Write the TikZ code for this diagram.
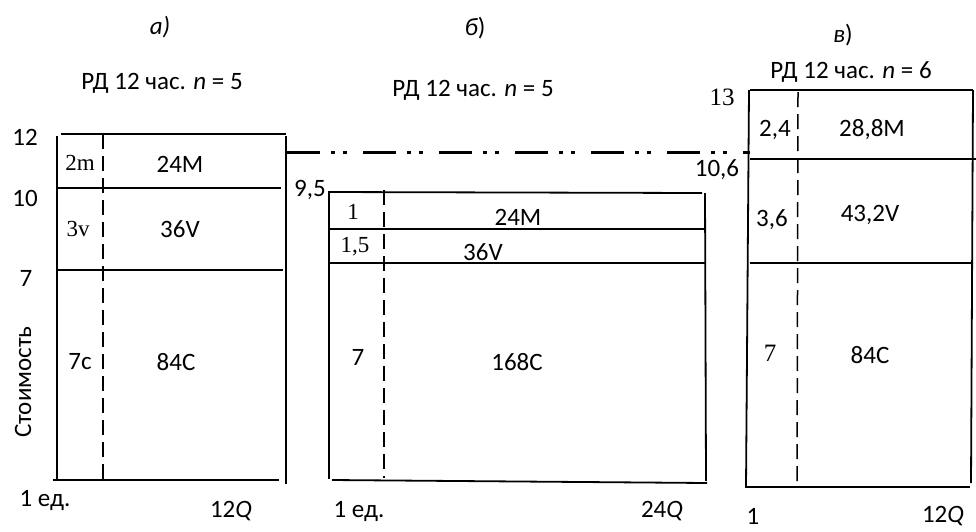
\documentclass[tikz,border=0pt]{standalone}
\usepackage{fontspec}
\setmainfont{Carlito}
\newfontfamily\serifface{Liberation Serif}
\begin{document}
\begin{tikzpicture}[x=1pt,y=-1pt,
  frame/.style={line width=1.8pt},
  cut/.style={line width=1.5pt, dash pattern=on 15pt off 7pt},
  level/.style={line width=3pt, dash pattern=on 33pt off 11pt on 4pt off 8pt on 4pt off 16pt},
  lbl/.style={inner sep=0pt, font=\fontsize{25}{30}\selectfont},
  slbl/.style={inner sep=0pt, font=\serifface\fontsize{23}{27}\selectfont}]
\useasboundingbox (0,0) rectangle (976,531);

% ---- titles
\node[lbl] (ta) at (160,27) {\itshape а)};
\node[lbl] (tb) at (475,28) {\itshape б\upshape)};
\node[lbl] (tc) at (843,35) {\itshape в\upshape)};
\node[lbl] (ha) at (162,83) {РД 12 час. \textit{n} = 5};
\node[lbl] (hb) at (473,90) {РД 12 час. \textit{n} = 5};
\node[lbl] (hc) at (851,72) {РД 12 час. \textit{n} = 6};

% ---- panel a
\draw[frame] (61,134) -- (286,134);
\draw[frame] (57,136) -- (57,481);
\draw[frame] (286,136) -- (286,484);
\draw[frame] (56,188) -- (281,188);
\draw[frame] (57,270) -- (283,270);
\draw[frame] (53,480) -- (279,480);
\draw[cut] (103,134) -- (103,480);
\node[lbl] (a12) at (25,137) {12};
\node[lbl] (a10) at (25,198) {10};
\node[lbl] (a7) at (26,278) {7};
\node[lbl, rotate=90] (ay) at (23,382) {Стоимость};
\node[slbl] (a2m) at (80,163) {2m};
\node[slbl] (a3v) at (78,229) {3v};
\node[lbl] (a7c) at (80,362) {7c};
\node[lbl] (a24) at (180,164) {24M};
\node[lbl] (a36) at (180,229) {36V};
\node[lbl] (a84) at (176,362) {84C};
\node[lbl] (ax1) at (45,500) {1 ед.};
\node[lbl] (axq) at (231,511) {12\textit{Q}};

% ---- level line
\coordinate (lv1) at (287,152);
\coordinate (lv2) at (750,152);
\draw[level] (lv1) -- (lv2);

% ---- panel b
\draw[frame] (328,192) -- (702,193);
\draw[frame] (329,192) -- (329,479);
\draw[frame] (705,193) -- (706,481);
\draw[frame] (329,229) -- (704,229);
\draw[frame] (330,263) -- (705,263);
\draw[frame] (332,480) -- (707,483);
\draw[cut] (384,190) -- (384,478);
\node[lbl] (b95) at (310,190) {9,5};
\node[slbl] (b1) at (353,212) {1};
\node[slbl] (b15) at (355,247) {1,5};
\node[lbl] (b24) at (518,217) {24M};
\node[lbl] (b36) at (483,252) {36V};
\node[lbl] (b7) at (358,357) {7};
\node[lbl] (b168) at (517,362) {168C};
\node[lbl] (bx1) at (359,511) {1 ед.};
\node[lbl] (bxq) at (662,511) {24\textit{Q}};

% ---- panel c
\draw[frame] (750,90) -- (973,90);
\draw[frame] (749,90) -- (746,487);
\draw[frame] (973,90) -- (971,483);
\draw[frame] (750,159) -- (976,159);
\draw[frame] (750,263) -- (973,263);
\draw[frame] (745,487) -- (970,487);
\draw[cut] (798,92) -- (797,487);
\node[slbl, font=\serifface\fontsize{25}{29}\selectfont] (c13) at (722,97) {13};
\node[lbl] (c106) at (717,170) {10,6};
\node[lbl] (c24) at (775,130) {2,4};
\node[lbl] (c288) at (872,130) {28,8M};
\node[lbl] (c36) at (772,220) {3,6};
\node[lbl] (c432) at (870,215) {43,2V};
\node[slbl, font=\serifface\fontsize{25}{29}\selectfont] (c7) at (770,353) {7};
\node[lbl] (c84) at (870,355) {84C};
\node[lbl] (cx1) at (753,516) {1};
\node[lbl] (cxq) at (943,516) {12\textit{Q}};
\end{tikzpicture}
\end{document}
